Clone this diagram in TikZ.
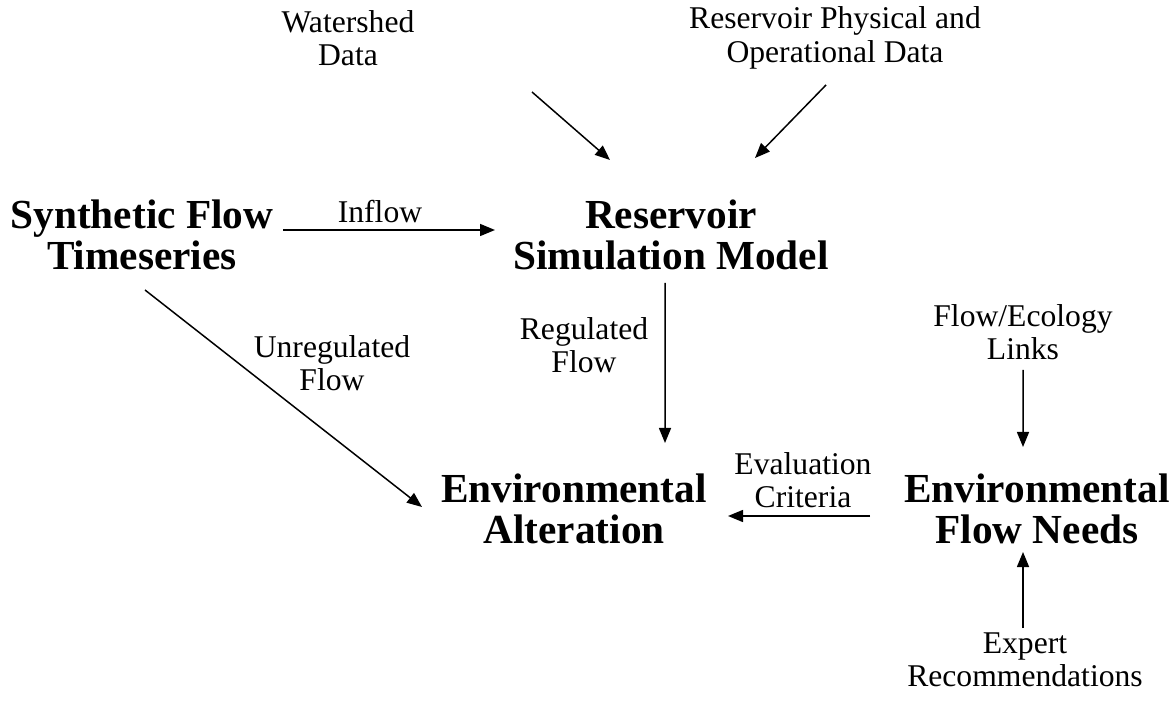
\documentclass[tikz,border=0pt]{standalone}
\usepackage{fontspec}
\setmainfont{Liberation Serif}
\usetikzlibrary{arrows.meta}

\begin{document}
\begin{tikzpicture}[
    box/.style={align=center, inner sep=0pt, font=\bfseries\fontsize{23.5}{23}\selectfont},
    info/.style={align=center, inner sep=0pt, font=\fontsize{18}{19}\selectfont},
    flow/.style={line width=0.85pt, -{Triangle[length=0.3cm, width=0.24cm]}}
  ]
      \useasboundingbox (0,0) rectangle (23.5,-14.04);

      \node[info] (watershed) at (6.96,-0.76) {Watershed\\Data};
      \node[info] (resdata) at (16.7,-0.76) {Reservoir Physical and\\Operational Data};
      \node[box] (synth) at (2.84,-4.7) {Synthetic Flow\\Timeseries};
      \node[box] (model) at (13.42,-4.7) {Reservoir\\Simulation Model};
      \node[box] (alter) at (11.48,-10.18) {Environmental\\Alteration};
      \node[box] (needs) at (20.74,-10.18) {Environmental\\Flow Needs};
      \node[info] (links) at (20.46,-6.64) {Flow/Ecology\\Links};
      \node[info] (expert) at (20.5,-13.2) {Expert\\Recommendations};

      \node[info] (inflow) at (7.6,-4.24) {Inflow};
      \node[info] (reg) at (11.68,-6.9) {Regulated\\Flow};
      \node[info] (unreg) at (6.64,-7.26) {Unregulated\\Flow};
      \node[info] (crit) at (16.06,-9.6) {Evaluation\\Criteria};

      \draw[flow] ([shift={(3.68,-1.08)}]watershed.center) -- ([shift={(-1.22,1.5)}]model.center);
      \draw[flow] ([shift={(-0.18,-0.94)}]resdata.center) -- ([shift={(1.68,1.54)}]model.center);
      \draw[flow] ([shift={(2.82,0.1)}]synth.center) -- ([shift={(-3.52,0.1)}]model.center);
      \draw[flow] ([shift={(-0.12,-0.96)}]model.center) -- ([shift={(1.82,1.32)}]alter.center);
      \draw[flow] ([shift={(0.06,-1.1)}]synth.center) -- ([shift={(-3.04,0.04)}]alter.center);
      \draw[flow] ([shift={(-3.34,-0.14)}]needs.center) -- ([shift={(3.08,-0.14)}]alter.center);
      \draw[flow] ([shift={(0,-0.76)}]links.center) -- ([shift={(-0.28,1.24)}]needs.center);
      \draw[flow] ([shift={(-0.04,0.64)}]expert.center) -- ([shift={(-0.28,-0.86)}]needs.center);

    \end{tikzpicture}
\end{document}
